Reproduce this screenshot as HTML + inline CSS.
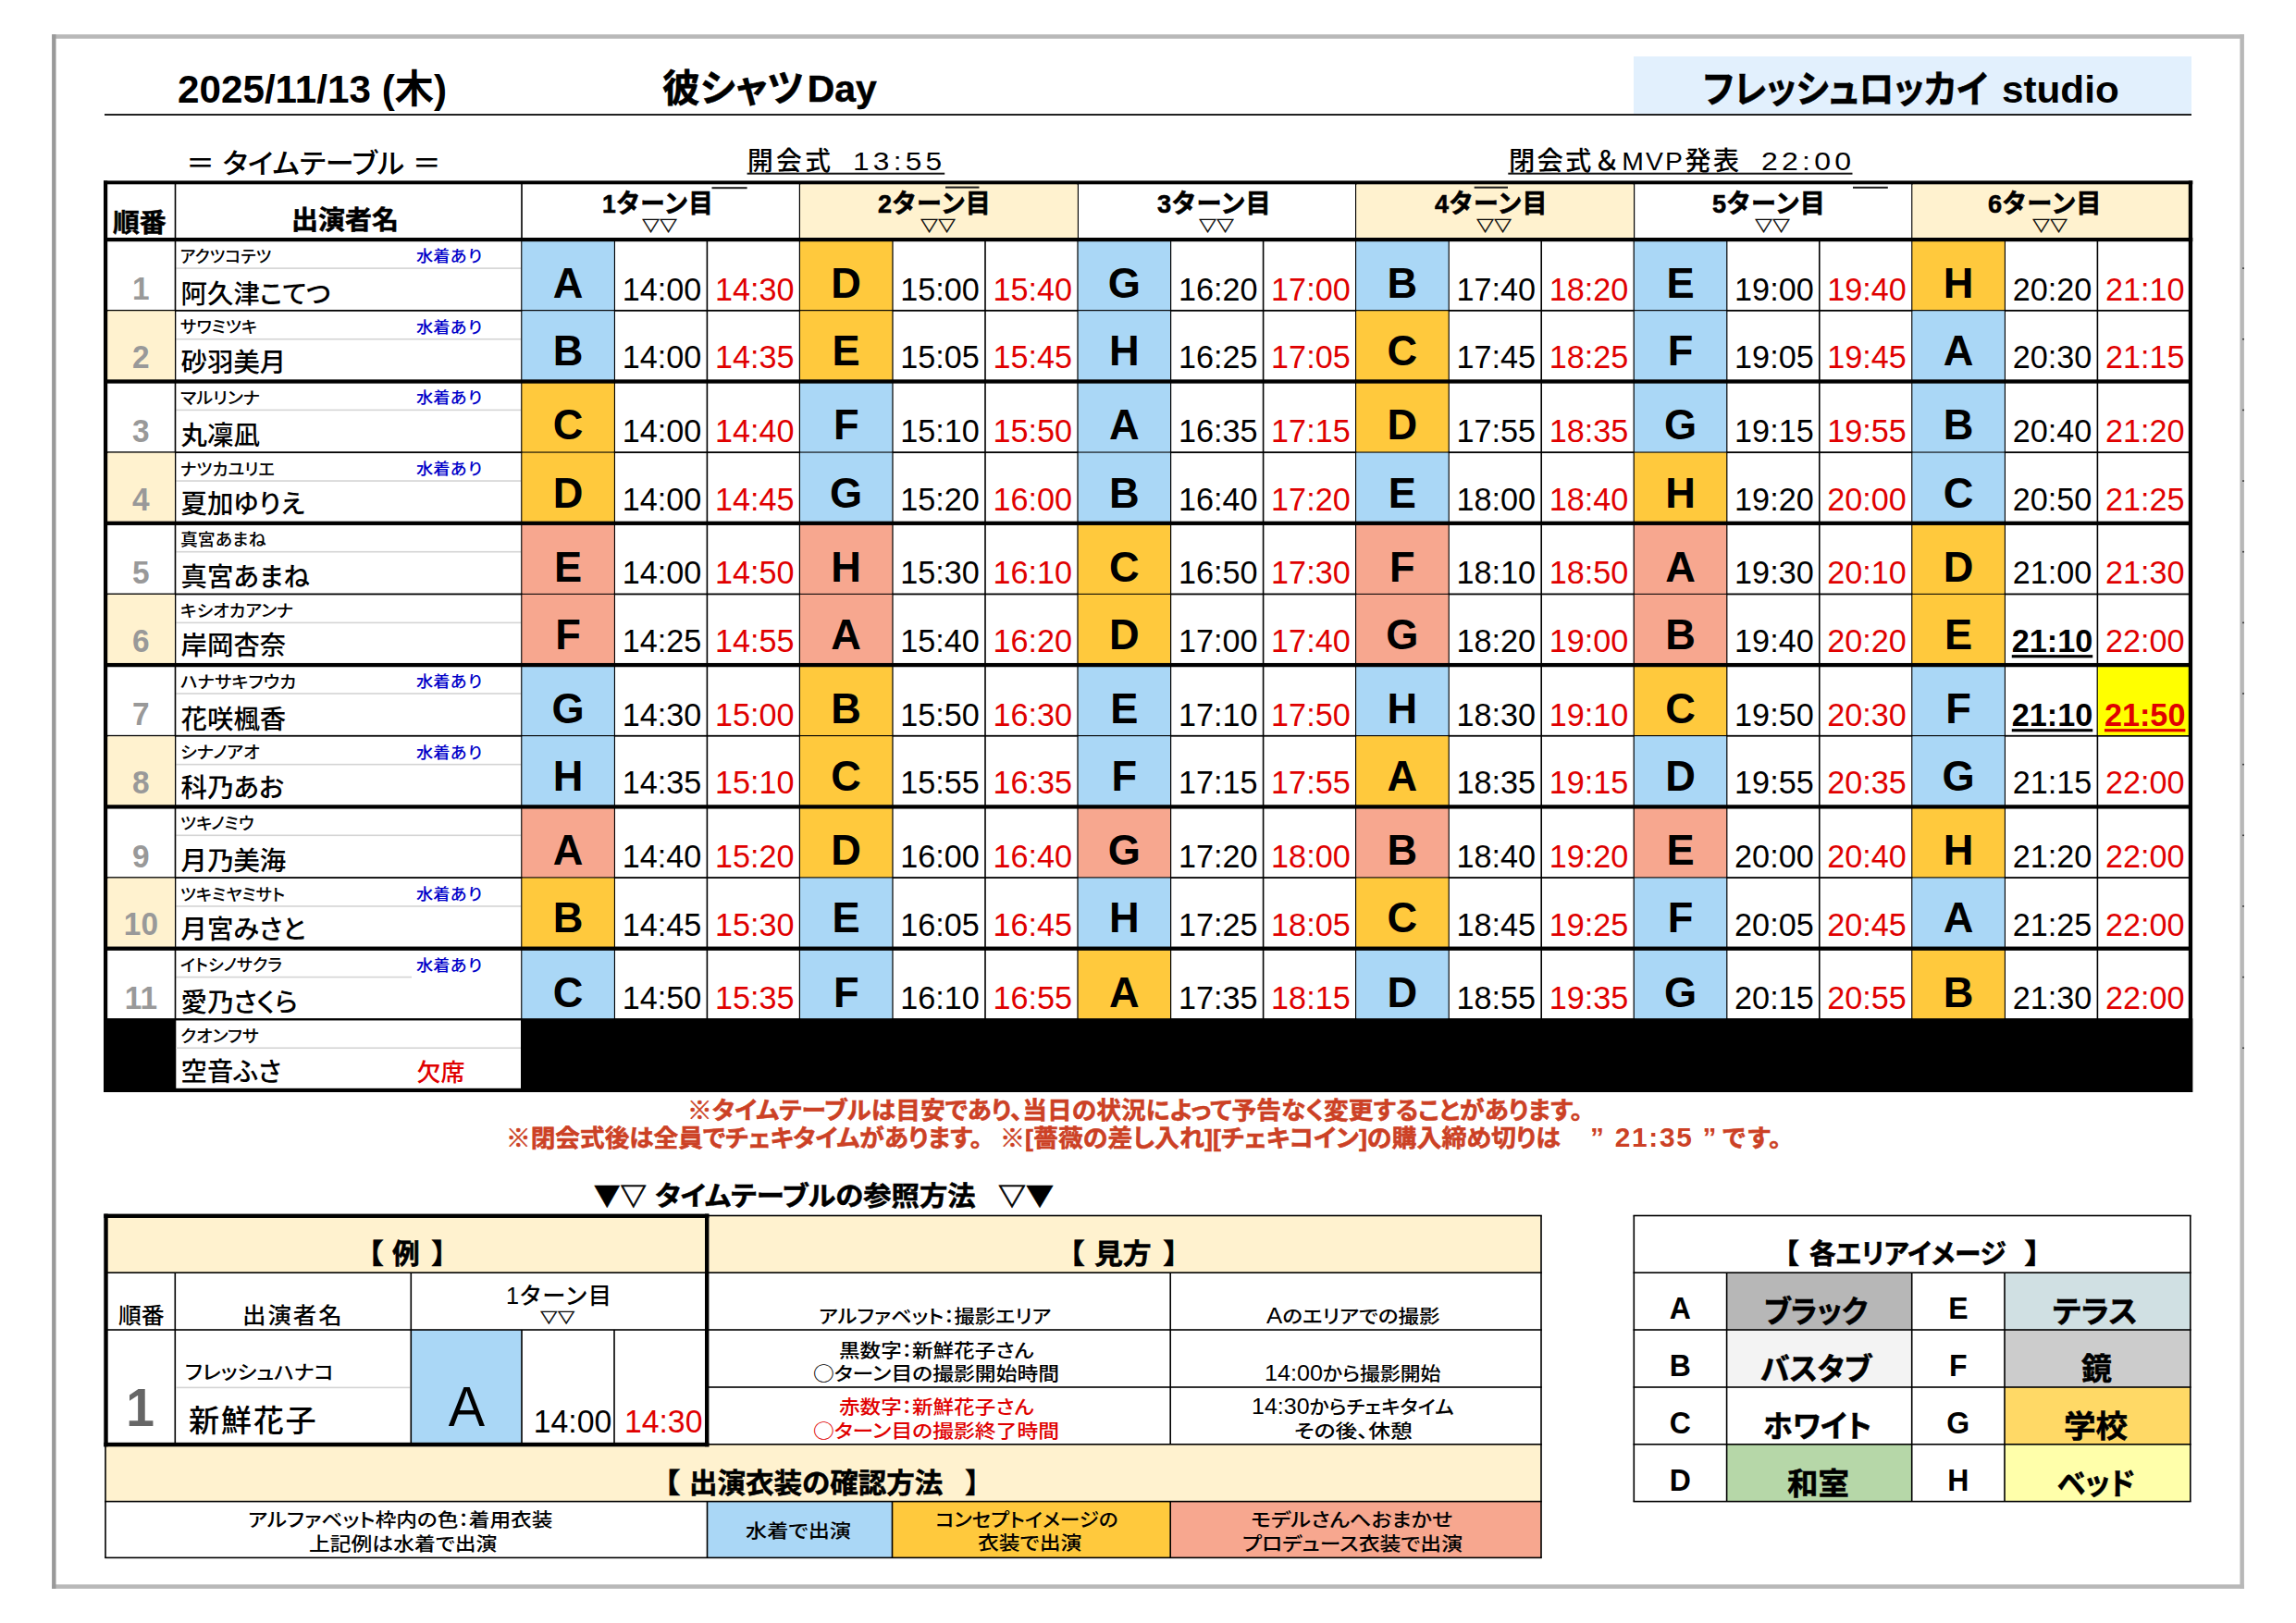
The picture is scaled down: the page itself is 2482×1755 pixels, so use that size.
<!DOCTYPE html>
<html lang="ja"><head><meta charset="utf-8"><title>タイムテーブル</title><style>
html,body{margin:0;padding:0;background:#fff}
#pg{position:relative;width:2482px;height:1755px;overflow:hidden;background:#fff;font-family:"Liberation Sans","Noto Sans CJK JP",sans-serif;color:#000}
#sh{position:absolute;left:0;top:0}
.t{position:absolute;white-space:nowrap;line-height:1;font-weight:500;font-family:"Liberation Sans","Noto Sans CJK JP",sans-serif}
.j{font-family:"Noto Sans CJK JP",sans-serif}
.bd{font-weight:bold}
.big{font-size:1.15em;line-height:0}
.hv{-webkit-text-stroke-width:0.55px}
.pl{font-feature-settings:"palt"}
.ul{text-decoration:underline;text-decoration-thickness:2px;text-underline-offset:3px}
.ul2{text-decoration:underline;text-decoration-thickness:3px;text-underline-offset:3px}
</style></head><body><div id="pg">
<svg id="sh" width="2482" height="1755" viewBox="0 0 2482 1755">
<rect x="56.10" y="37.20" width="2369.80" height="4.60" fill="#b8b8b8"/>
<rect x="56.10" y="1713.30" width="2369.80" height="4.60" fill="#b8b8b8"/>
<rect x="2421.40" y="37.20" width="4.50" height="1680.70" fill="#b8b8b8"/>
<rect x="56.10" y="37.20" width="4.40" height="1680.70" fill="#999"/>
<rect x="1766.00" y="61.00" width="603.00" height="62.00" fill="#e2f0fd"/>
<rect x="864.60" y="199.00" width="300.60" height="59.00" fill="#fff2cf"/>
<rect x="1465.80" y="199.00" width="300.60" height="59.00" fill="#fff2cf"/>
<rect x="2067.00" y="199.00" width="300.60" height="59.00" fill="#fff2cf"/>
<rect x="564.00" y="259.20" width="100.20" height="76.65" fill="#aad7f6"/>
<rect x="864.60" y="259.20" width="100.20" height="76.65" fill="#ffc93d"/>
<rect x="1165.20" y="259.20" width="100.20" height="76.65" fill="#aad7f6"/>
<rect x="1465.80" y="259.20" width="100.20" height="76.65" fill="#aad7f6"/>
<rect x="1766.40" y="259.20" width="100.20" height="76.65" fill="#aad7f6"/>
<rect x="2067.00" y="259.20" width="100.20" height="76.65" fill="#ffc93d"/>
<rect x="116.00" y="335.85" width="73.30" height="76.65" fill="#fff2cf"/>
<rect x="564.00" y="335.85" width="100.20" height="76.65" fill="#aad7f6"/>
<rect x="864.60" y="335.85" width="100.20" height="76.65" fill="#ffc93d"/>
<rect x="1165.20" y="335.85" width="100.20" height="76.65" fill="#aad7f6"/>
<rect x="1465.80" y="335.85" width="100.20" height="76.65" fill="#ffc93d"/>
<rect x="1766.40" y="335.85" width="100.20" height="76.65" fill="#aad7f6"/>
<rect x="2067.00" y="335.85" width="100.20" height="76.65" fill="#aad7f6"/>
<rect x="564.00" y="412.50" width="100.20" height="76.65" fill="#ffc93d"/>
<rect x="864.60" y="412.50" width="100.20" height="76.65" fill="#aad7f6"/>
<rect x="1165.20" y="412.50" width="100.20" height="76.65" fill="#aad7f6"/>
<rect x="1465.80" y="412.50" width="100.20" height="76.65" fill="#ffc93d"/>
<rect x="1766.40" y="412.50" width="100.20" height="76.65" fill="#aad7f6"/>
<rect x="2067.00" y="412.50" width="100.20" height="76.65" fill="#aad7f6"/>
<rect x="116.00" y="489.15" width="73.30" height="76.65" fill="#fff2cf"/>
<rect x="564.00" y="489.15" width="100.20" height="76.65" fill="#ffc93d"/>
<rect x="864.60" y="489.15" width="100.20" height="76.65" fill="#aad7f6"/>
<rect x="1165.20" y="489.15" width="100.20" height="76.65" fill="#aad7f6"/>
<rect x="1465.80" y="489.15" width="100.20" height="76.65" fill="#aad7f6"/>
<rect x="1766.40" y="489.15" width="100.20" height="76.65" fill="#ffc93d"/>
<rect x="2067.00" y="489.15" width="100.20" height="76.65" fill="#aad7f6"/>
<rect x="564.00" y="565.80" width="100.20" height="76.65" fill="#f7a78f"/>
<rect x="864.60" y="565.80" width="100.20" height="76.65" fill="#f7a78f"/>
<rect x="1165.20" y="565.80" width="100.20" height="76.65" fill="#ffc93d"/>
<rect x="1465.80" y="565.80" width="100.20" height="76.65" fill="#f7a78f"/>
<rect x="1766.40" y="565.80" width="100.20" height="76.65" fill="#f7a78f"/>
<rect x="2067.00" y="565.80" width="100.20" height="76.65" fill="#ffc93d"/>
<rect x="116.00" y="642.45" width="73.30" height="76.65" fill="#fff2cf"/>
<rect x="564.00" y="642.45" width="100.20" height="76.65" fill="#f7a78f"/>
<rect x="864.60" y="642.45" width="100.20" height="76.65" fill="#f7a78f"/>
<rect x="1165.20" y="642.45" width="100.20" height="76.65" fill="#ffc93d"/>
<rect x="1465.80" y="642.45" width="100.20" height="76.65" fill="#f7a78f"/>
<rect x="1766.40" y="642.45" width="100.20" height="76.65" fill="#f7a78f"/>
<rect x="2067.00" y="642.45" width="100.20" height="76.65" fill="#ffc93d"/>
<rect x="564.00" y="719.10" width="100.20" height="76.65" fill="#aad7f6"/>
<rect x="864.60" y="719.10" width="100.20" height="76.65" fill="#ffc93d"/>
<rect x="1165.20" y="719.10" width="100.20" height="76.65" fill="#aad7f6"/>
<rect x="1465.80" y="719.10" width="100.20" height="76.65" fill="#aad7f6"/>
<rect x="1766.40" y="719.10" width="100.20" height="76.65" fill="#ffc93d"/>
<rect x="2067.00" y="719.10" width="100.20" height="76.65" fill="#aad7f6"/>
<rect x="2267.40" y="719.10" width="100.20" height="76.65" fill="#ffff00"/>
<rect x="116.00" y="795.75" width="73.30" height="76.65" fill="#fff2cf"/>
<rect x="564.00" y="795.75" width="100.20" height="76.65" fill="#aad7f6"/>
<rect x="864.60" y="795.75" width="100.20" height="76.65" fill="#ffc93d"/>
<rect x="1165.20" y="795.75" width="100.20" height="76.65" fill="#aad7f6"/>
<rect x="1465.80" y="795.75" width="100.20" height="76.65" fill="#ffc93d"/>
<rect x="1766.40" y="795.75" width="100.20" height="76.65" fill="#aad7f6"/>
<rect x="2067.00" y="795.75" width="100.20" height="76.65" fill="#aad7f6"/>
<rect x="564.00" y="872.40" width="100.20" height="76.65" fill="#f7a78f"/>
<rect x="864.60" y="872.40" width="100.20" height="76.65" fill="#ffc93d"/>
<rect x="1165.20" y="872.40" width="100.20" height="76.65" fill="#f7a78f"/>
<rect x="1465.80" y="872.40" width="100.20" height="76.65" fill="#f7a78f"/>
<rect x="1766.40" y="872.40" width="100.20" height="76.65" fill="#f7a78f"/>
<rect x="2067.00" y="872.40" width="100.20" height="76.65" fill="#ffc93d"/>
<rect x="116.00" y="949.05" width="73.30" height="76.65" fill="#fff2cf"/>
<rect x="564.00" y="949.05" width="100.20" height="76.65" fill="#ffc93d"/>
<rect x="864.60" y="949.05" width="100.20" height="76.65" fill="#aad7f6"/>
<rect x="1165.20" y="949.05" width="100.20" height="76.65" fill="#aad7f6"/>
<rect x="1465.80" y="949.05" width="100.20" height="76.65" fill="#ffc93d"/>
<rect x="1766.40" y="949.05" width="100.20" height="76.65" fill="#aad7f6"/>
<rect x="2067.00" y="949.05" width="100.20" height="76.65" fill="#aad7f6"/>
<rect x="564.00" y="1025.70" width="100.20" height="76.65" fill="#aad7f6"/>
<rect x="864.60" y="1025.70" width="100.20" height="76.65" fill="#aad7f6"/>
<rect x="1165.20" y="1025.70" width="100.20" height="76.65" fill="#ffc93d"/>
<rect x="1465.80" y="1025.70" width="100.20" height="76.65" fill="#aad7f6"/>
<rect x="1766.40" y="1025.70" width="100.20" height="76.65" fill="#aad7f6"/>
<rect x="2067.00" y="1025.70" width="100.20" height="76.65" fill="#ffc93d"/>
<rect x="114.00" y="1314.50" width="1552.00" height="61.70" fill="#fff2cf"/>
<rect x="114.00" y="1561.80" width="1552.00" height="61.80" fill="#fff2cf"/>
<rect x="444.30" y="1438.00" width="119.70" height="123.80" fill="#aad7f6"/>
<rect x="764.50" y="1623.60" width="200.00" height="60.80" fill="#aad7f6"/>
<rect x="964.50" y="1623.60" width="300.70" height="60.80" fill="#ffc93d"/>
<rect x="1265.20" y="1623.60" width="400.80" height="60.80" fill="#f7a78f"/>
<rect x="1866.60" y="1376.20" width="200.10" height="61.80" fill="#b7b7b7"/>
<rect x="1866.60" y="1438.00" width="200.10" height="62.00" fill="#f3f3f3"/>
<rect x="1866.60" y="1561.80" width="200.10" height="61.80" fill="#b6d7a8"/>
<rect x="2167.00" y="1376.20" width="200.80" height="61.80" fill="#d0e0e3"/>
<rect x="2167.00" y="1438.00" width="200.80" height="62.00" fill="#cccccc"/>
<rect x="2167.00" y="1500.00" width="200.80" height="61.80" fill="#ffd966"/>
<rect x="2167.00" y="1561.80" width="200.80" height="61.80" fill="#ffffaa"/>
<rect x="113.00" y="123.00" width="2256.00" height="2.00" fill="#222"/>
<rect x="807.60" y="186.70" width="213.60" height="2.00" fill="#111"/>
<rect x="1630.30" y="186.70" width="372.20" height="2.00" fill="#111"/>
<rect x="190.30" y="289.30" width="372.70" height="1.60" fill="#d4d4d4"/>
<rect x="190.30" y="365.95" width="372.70" height="1.60" fill="#d4d4d4"/>
<rect x="190.30" y="442.60" width="372.70" height="1.60" fill="#d4d4d4"/>
<rect x="190.30" y="519.25" width="372.70" height="1.60" fill="#d4d4d4"/>
<rect x="190.30" y="595.90" width="372.70" height="1.60" fill="#d4d4d4"/>
<rect x="190.30" y="672.55" width="372.70" height="1.60" fill="#d4d4d4"/>
<rect x="190.30" y="749.20" width="372.70" height="1.60" fill="#d4d4d4"/>
<rect x="190.30" y="825.85" width="372.70" height="1.60" fill="#d4d4d4"/>
<rect x="190.30" y="902.50" width="372.70" height="1.60" fill="#d4d4d4"/>
<rect x="190.30" y="979.15" width="372.70" height="1.60" fill="#d4d4d4"/>
<rect x="190.30" y="1055.80" width="254.70" height="1.60" fill="#d4d4d4"/>
<rect x="563.20" y="197.00" width="1.60" height="905.35" fill="#000"/>
<rect x="663.40" y="259.20" width="1.60" height="843.15" fill="#000"/>
<rect x="763.60" y="259.20" width="1.60" height="843.15" fill="#000"/>
<rect x="863.80" y="197.00" width="1.60" height="905.35" fill="#000"/>
<rect x="964.00" y="259.20" width="1.60" height="843.15" fill="#000"/>
<rect x="1064.20" y="259.20" width="1.60" height="843.15" fill="#000"/>
<rect x="1164.40" y="197.00" width="1.60" height="905.35" fill="#000"/>
<rect x="1264.60" y="259.20" width="1.60" height="843.15" fill="#000"/>
<rect x="1364.80" y="259.20" width="1.60" height="843.15" fill="#000"/>
<rect x="1465.00" y="197.00" width="1.60" height="905.35" fill="#000"/>
<rect x="1565.20" y="259.20" width="1.60" height="843.15" fill="#000"/>
<rect x="1665.40" y="259.20" width="1.60" height="843.15" fill="#000"/>
<rect x="1765.60" y="197.00" width="1.60" height="905.35" fill="#000"/>
<rect x="1865.80" y="259.20" width="1.60" height="843.15" fill="#000"/>
<rect x="1966.00" y="259.20" width="1.60" height="843.15" fill="#000"/>
<rect x="2066.20" y="197.00" width="1.60" height="905.35" fill="#000"/>
<rect x="2166.40" y="259.20" width="1.60" height="843.15" fill="#000"/>
<rect x="2266.60" y="259.20" width="1.60" height="843.15" fill="#000"/>
<rect x="188.70" y="197.00" width="1.60" height="905.35" fill="#000"/>
<rect x="114.00" y="334.95" width="2254.00" height="1.80" fill="#000"/>
<rect x="114.00" y="488.25" width="2254.00" height="1.80" fill="#000"/>
<rect x="114.00" y="641.55" width="2254.00" height="1.80" fill="#000"/>
<rect x="114.00" y="794.85" width="2254.00" height="1.80" fill="#000"/>
<rect x="114.00" y="948.15" width="2254.00" height="1.80" fill="#000"/>
<rect x="114.00" y="1101.45" width="2254.00" height="1.80" fill="#000"/>
<rect x="764.00" y="1313.70" width="902.80" height="1.60" fill="#000"/>
<rect x="113.20" y="1375.40" width="1553.60" height="1.60" fill="#000"/>
<rect x="113.20" y="1437.20" width="1553.60" height="1.60" fill="#000"/>
<rect x="764.00" y="1499.20" width="902.80" height="1.60" fill="#000"/>
<rect x="113.20" y="1561.00" width="1553.60" height="1.60" fill="#000"/>
<rect x="113.20" y="1622.80" width="1553.60" height="1.60" fill="#000"/>
<rect x="113.20" y="1683.60" width="1553.60" height="1.60" fill="#000"/>
<rect x="113.20" y="1561.80" width="1.60" height="122.60" fill="#000"/>
<rect x="1665.20" y="1314.50" width="1.60" height="369.90" fill="#000"/>
<rect x="188.50" y="1376.20" width="1.60" height="185.60" fill="#000"/>
<rect x="443.50" y="1376.20" width="1.60" height="185.60" fill="#000"/>
<rect x="563.20" y="1438.00" width="1.60" height="123.80" fill="#000"/>
<rect x="663.20" y="1438.00" width="1.60" height="123.80" fill="#000"/>
<rect x="1264.40" y="1376.20" width="1.60" height="185.60" fill="#000"/>
<rect x="763.70" y="1623.60" width="1.60" height="60.80" fill="#000"/>
<rect x="963.70" y="1623.60" width="1.60" height="60.80" fill="#000"/>
<rect x="1264.40" y="1623.60" width="1.60" height="60.80" fill="#000"/>
<rect x="190.00" y="1499.60" width="253.00" height="1.60" fill="#d4d4d4"/>
<rect x="1765.50" y="1313.70" width="603.10" height="1.60" fill="#000"/>
<rect x="1765.50" y="1375.40" width="603.10" height="1.60" fill="#000"/>
<rect x="1765.50" y="1437.20" width="603.10" height="1.60" fill="#000"/>
<rect x="1765.50" y="1499.20" width="603.10" height="1.60" fill="#000"/>
<rect x="1765.50" y="1561.00" width="603.10" height="1.60" fill="#000"/>
<rect x="1765.50" y="1622.80" width="603.10" height="1.60" fill="#000"/>
<rect x="1765.50" y="1314.50" width="1.60" height="309.10" fill="#000"/>
<rect x="2367.00" y="1314.50" width="1.60" height="309.10" fill="#000"/>
<rect x="1865.80" y="1376.20" width="1.60" height="247.40" fill="#000"/>
<rect x="2065.90" y="1376.20" width="1.60" height="247.40" fill="#000"/>
<rect x="2166.20" y="1376.20" width="1.60" height="247.40" fill="#000"/>
<rect x="865.00" y="199.45" width="299.80" height="57.75" fill="#fff2cf"/>
<rect x="1466.20" y="199.45" width="299.80" height="57.75" fill="#fff2cf"/>
<rect x="2067.40" y="199.45" width="299.80" height="57.75" fill="#fff2cf"/>
<rect x="564.40" y="259.65" width="99.40" height="75.40" fill="#aad7f6"/>
<rect x="865.00" y="259.65" width="99.40" height="75.40" fill="#ffc93d"/>
<rect x="1165.60" y="259.65" width="99.40" height="75.40" fill="#aad7f6"/>
<rect x="1466.20" y="259.65" width="99.40" height="75.40" fill="#aad7f6"/>
<rect x="1766.80" y="259.65" width="99.40" height="75.40" fill="#aad7f6"/>
<rect x="2067.40" y="259.65" width="99.40" height="75.40" fill="#ffc93d"/>
<rect x="116.40" y="336.30" width="72.50" height="75.40" fill="#fff2cf"/>
<rect x="564.40" y="336.30" width="99.40" height="75.40" fill="#aad7f6"/>
<rect x="865.00" y="336.30" width="99.40" height="75.40" fill="#ffc93d"/>
<rect x="1165.60" y="336.30" width="99.40" height="75.40" fill="#aad7f6"/>
<rect x="1466.20" y="336.30" width="99.40" height="75.40" fill="#ffc93d"/>
<rect x="1766.80" y="336.30" width="99.40" height="75.40" fill="#aad7f6"/>
<rect x="2067.40" y="336.30" width="99.40" height="75.40" fill="#aad7f6"/>
<rect x="564.40" y="412.95" width="99.40" height="75.40" fill="#ffc93d"/>
<rect x="865.00" y="412.95" width="99.40" height="75.40" fill="#aad7f6"/>
<rect x="1165.60" y="412.95" width="99.40" height="75.40" fill="#aad7f6"/>
<rect x="1466.20" y="412.95" width="99.40" height="75.40" fill="#ffc93d"/>
<rect x="1766.80" y="412.95" width="99.40" height="75.40" fill="#aad7f6"/>
<rect x="2067.40" y="412.95" width="99.40" height="75.40" fill="#aad7f6"/>
<rect x="116.40" y="489.60" width="72.50" height="75.40" fill="#fff2cf"/>
<rect x="564.40" y="489.60" width="99.40" height="75.40" fill="#ffc93d"/>
<rect x="865.00" y="489.60" width="99.40" height="75.40" fill="#aad7f6"/>
<rect x="1165.60" y="489.60" width="99.40" height="75.40" fill="#aad7f6"/>
<rect x="1466.20" y="489.60" width="99.40" height="75.40" fill="#aad7f6"/>
<rect x="1766.80" y="489.60" width="99.40" height="75.40" fill="#ffc93d"/>
<rect x="2067.40" y="489.60" width="99.40" height="75.40" fill="#aad7f6"/>
<rect x="564.40" y="566.25" width="99.40" height="75.40" fill="#f7a78f"/>
<rect x="865.00" y="566.25" width="99.40" height="75.40" fill="#f7a78f"/>
<rect x="1165.60" y="566.25" width="99.40" height="75.40" fill="#ffc93d"/>
<rect x="1466.20" y="566.25" width="99.40" height="75.40" fill="#f7a78f"/>
<rect x="1766.80" y="566.25" width="99.40" height="75.40" fill="#f7a78f"/>
<rect x="2067.40" y="566.25" width="99.40" height="75.40" fill="#ffc93d"/>
<rect x="116.40" y="642.90" width="72.50" height="75.40" fill="#fff2cf"/>
<rect x="564.40" y="642.90" width="99.40" height="75.40" fill="#f7a78f"/>
<rect x="865.00" y="642.90" width="99.40" height="75.40" fill="#f7a78f"/>
<rect x="1165.60" y="642.90" width="99.40" height="75.40" fill="#ffc93d"/>
<rect x="1466.20" y="642.90" width="99.40" height="75.40" fill="#f7a78f"/>
<rect x="1766.80" y="642.90" width="99.40" height="75.40" fill="#f7a78f"/>
<rect x="2067.40" y="642.90" width="99.40" height="75.40" fill="#ffc93d"/>
<rect x="564.40" y="719.55" width="99.40" height="75.40" fill="#aad7f6"/>
<rect x="865.00" y="719.55" width="99.40" height="75.40" fill="#ffc93d"/>
<rect x="1165.60" y="719.55" width="99.40" height="75.40" fill="#aad7f6"/>
<rect x="1466.20" y="719.55" width="99.40" height="75.40" fill="#aad7f6"/>
<rect x="1766.80" y="719.55" width="99.40" height="75.40" fill="#ffc93d"/>
<rect x="2067.40" y="719.55" width="99.40" height="75.40" fill="#aad7f6"/>
<rect x="2267.80" y="719.55" width="99.40" height="75.40" fill="#ffff00"/>
<rect x="116.40" y="796.20" width="72.50" height="75.40" fill="#fff2cf"/>
<rect x="564.40" y="796.20" width="99.40" height="75.40" fill="#aad7f6"/>
<rect x="865.00" y="796.20" width="99.40" height="75.40" fill="#ffc93d"/>
<rect x="1165.60" y="796.20" width="99.40" height="75.40" fill="#aad7f6"/>
<rect x="1466.20" y="796.20" width="99.40" height="75.40" fill="#ffc93d"/>
<rect x="1766.80" y="796.20" width="99.40" height="75.40" fill="#aad7f6"/>
<rect x="2067.40" y="796.20" width="99.40" height="75.40" fill="#aad7f6"/>
<rect x="564.40" y="872.85" width="99.40" height="75.40" fill="#f7a78f"/>
<rect x="865.00" y="872.85" width="99.40" height="75.40" fill="#ffc93d"/>
<rect x="1165.60" y="872.85" width="99.40" height="75.40" fill="#f7a78f"/>
<rect x="1466.20" y="872.85" width="99.40" height="75.40" fill="#f7a78f"/>
<rect x="1766.80" y="872.85" width="99.40" height="75.40" fill="#f7a78f"/>
<rect x="2067.40" y="872.85" width="99.40" height="75.40" fill="#ffc93d"/>
<rect x="116.40" y="949.50" width="72.50" height="75.40" fill="#fff2cf"/>
<rect x="564.40" y="949.50" width="99.40" height="75.40" fill="#ffc93d"/>
<rect x="865.00" y="949.50" width="99.40" height="75.40" fill="#aad7f6"/>
<rect x="1165.60" y="949.50" width="99.40" height="75.40" fill="#aad7f6"/>
<rect x="1466.20" y="949.50" width="99.40" height="75.40" fill="#ffc93d"/>
<rect x="1766.80" y="949.50" width="99.40" height="75.40" fill="#aad7f6"/>
<rect x="2067.40" y="949.50" width="99.40" height="75.40" fill="#aad7f6"/>
<rect x="564.40" y="1026.15" width="99.40" height="75.40" fill="#aad7f6"/>
<rect x="865.00" y="1026.15" width="99.40" height="75.40" fill="#aad7f6"/>
<rect x="1165.60" y="1026.15" width="99.40" height="75.40" fill="#ffc93d"/>
<rect x="1466.20" y="1026.15" width="99.40" height="75.40" fill="#aad7f6"/>
<rect x="1766.80" y="1026.15" width="99.40" height="75.40" fill="#aad7f6"/>
<rect x="2067.40" y="1026.15" width="99.40" height="75.40" fill="#ffc93d"/>
<rect x="2424.20" y="289.30" width="1.60" height="1.60" fill="#222"/>
<rect x="2424.20" y="365.95" width="1.60" height="1.60" fill="#222"/>
<rect x="2424.20" y="442.60" width="1.60" height="1.60" fill="#222"/>
<rect x="2424.20" y="519.25" width="1.60" height="1.60" fill="#222"/>
<rect x="2424.20" y="595.90" width="1.60" height="1.60" fill="#222"/>
<rect x="2424.20" y="672.55" width="1.60" height="1.60" fill="#222"/>
<rect x="2424.20" y="749.20" width="1.60" height="1.60" fill="#222"/>
<rect x="2424.20" y="825.85" width="1.60" height="1.60" fill="#222"/>
<rect x="2424.20" y="902.50" width="1.60" height="1.60" fill="#222"/>
<rect x="2424.20" y="979.15" width="1.60" height="1.60" fill="#222"/>
<rect x="2424.20" y="1055.80" width="1.60" height="1.60" fill="#222"/>
<rect x="2424.20" y="1132.45" width="1.60" height="1.60" fill="#222"/>
<rect x="112.00" y="1101.25" width="2258.30" height="79.75" fill="#000"/>
<rect x="190.30" y="1103.45" width="372.70" height="73.35" fill="#fff"/>
<rect x="190.30" y="1132.45" width="372.70" height="1.60" fill="#d4d4d4"/>
<rect x="769.50" y="202.20" width="38.10" height="2.00" fill="#1a1a1a"/>
<rect x="1022.00" y="201.60" width="36.50" height="2.00" fill="#1a1a1a"/>
<rect x="1593.70" y="201.70" width="36.30" height="2.00" fill="#1a1a1a"/>
<rect x="2003.00" y="201.80" width="37.80" height="2.00" fill="#1a1a1a"/>
<rect x="114.00" y="410.35" width="2254.00" height="4.30" fill="#000"/>
<rect x="114.00" y="563.65" width="2254.00" height="4.30" fill="#000"/>
<rect x="114.00" y="716.95" width="2254.00" height="4.30" fill="#000"/>
<rect x="114.00" y="870.25" width="2254.00" height="4.30" fill="#000"/>
<rect x="114.00" y="1023.55" width="2254.00" height="4.30" fill="#000"/>
<rect x="112.00" y="195.40" width="2258.30" height="3.90" fill="#000"/>
<rect x="112.00" y="257.00" width="2258.30" height="4.20" fill="#000"/>
<rect x="112.00" y="195.40" width="4.20" height="985.60" fill="#000"/>
<rect x="2365.80" y="195.40" width="4.30" height="985.60" fill="#000"/>
<rect x="112.30" y="1312.60" width="654.10" height="4.40" fill="#000"/>
<rect x="112.30" y="1559.80" width="654.10" height="4.50" fill="#000"/>
<rect x="112.30" y="1312.60" width="4.40" height="251.70" fill="#000"/>
<rect x="762.00" y="1312.60" width="4.40" height="251.70" fill="#000"/>
</svg>
<div class="t bd" style="top:75.52px;font-size:41.8px;left:192.19px;transform:scale(1.0098,1);transform-origin:left 35.38px;">2025/11/13 (木)</div>
<div class="t bd pl hv" style="top:75.79px;font-size:41px;left:715.50px;transform:scale(0.9957,1);transform-origin:left 34.71px;">彼シャツ<span style="margin-left:4px">Day</span></div>
<div class="t bd pl hv" style="top:76.69px;font-size:41px;left:1840.55px;transform:scale(0.9252,1);transform-origin:left 34.71px;">フレッシュロッカイ</div>
<div class="t bd" style="top:76.69px;font-size:41px;left:2163.64px;transform:scale(1.0303,1);transform-origin:left 34.71px;">studio</div>
<div class="t pl" style="top:162.00px;font-size:30px;left:201.16px;transform:scale(1.036,1);transform-origin:left 25.39px;">＝ タイムテーブル ＝</div>
<div class="t" style="top:160.90px;font-size:28px;left:808.42px;transform:scale(0.9909,1);transform-origin:left 23.70px;letter-spacing:3.4px;">開会式</div>
<div class="t" style="top:160.90px;font-size:28px;left:922.23px;transform:scale(1.1329,1);transform-origin:left 23.70px;letter-spacing:3.7px;">13:55</div>
<div class="t" style="top:160.90px;font-size:28px;left:1630.98px;transform:scale(1.0115,1);transform-origin:left 23.70px;letter-spacing:2.2px;">閉会式＆MVP発表</div>
<div class="t" style="top:160.90px;font-size:28px;left:1903.56px;transform:scale(1.1434,1);transform-origin:left 23.70px;letter-spacing:3.7px;">22:00</div>
<div class="t bd" style="top:296.38px;font-size:33.4px;left:-547.60px;width:1400px;text-align:center;transform:scale(1,1.06);transform-origin:center 28.27px;color:#999999;">1</div>
<div class="t pl" style="top:268.76px;font-size:18.0px;left:194.60px;transform:scale(1.0,1);transform-origin:left 15.24px;">アクツコテツ</div>
<div class="t" style="top:269.19px;font-size:17.5px;left:450.00px;transform:scale(1.045,1);transform-origin:left 14.81px;color:#0000c8;">水着あり</div>
<div class="t pl" style="top:303.81px;font-size:28.4px;left:195.60px;">阿久津こてつ</div>
<div class="t bd" style="top:284.19px;font-size:45.2px;left:-85.90px;width:1400px;text-align:center;transform:scale(1,1.02);transform-origin:center 38.26px;">A</div>
<div class="t" style="top:295.60px;font-size:34.2px;left:15.50px;width:1400px;text-align:center;transform:scale(1,1.05);transform-origin:center 28.95px;">14:00</div>
<div class="t" style="top:295.60px;font-size:34.2px;left:115.70px;width:1400px;text-align:center;transform:scale(1,1.05);transform-origin:center 28.95px;color:#e00000;">14:30</div>
<div class="t bd" style="top:284.19px;font-size:45.2px;left:214.70px;width:1400px;text-align:center;transform:scale(1,1.02);transform-origin:center 38.26px;">D</div>
<div class="t" style="top:295.60px;font-size:34.2px;left:316.10px;width:1400px;text-align:center;transform:scale(1,1.05);transform-origin:center 28.95px;">15:00</div>
<div class="t" style="top:295.60px;font-size:34.2px;left:416.30px;width:1400px;text-align:center;transform:scale(1,1.05);transform-origin:center 28.95px;color:#e00000;">15:40</div>
<div class="t bd" style="top:284.19px;font-size:45.2px;left:515.30px;width:1400px;text-align:center;transform:scale(1,1.02);transform-origin:center 38.26px;">G</div>
<div class="t" style="top:295.60px;font-size:34.2px;left:616.70px;width:1400px;text-align:center;transform:scale(1,1.05);transform-origin:center 28.95px;">16:20</div>
<div class="t" style="top:295.60px;font-size:34.2px;left:716.90px;width:1400px;text-align:center;transform:scale(1,1.05);transform-origin:center 28.95px;color:#e00000;">17:00</div>
<div class="t bd" style="top:284.19px;font-size:45.2px;left:815.90px;width:1400px;text-align:center;transform:scale(1,1.02);transform-origin:center 38.26px;">B</div>
<div class="t" style="top:295.60px;font-size:34.2px;left:917.30px;width:1400px;text-align:center;transform:scale(1,1.05);transform-origin:center 28.95px;">17:40</div>
<div class="t" style="top:295.60px;font-size:34.2px;left:1017.50px;width:1400px;text-align:center;transform:scale(1,1.05);transform-origin:center 28.95px;color:#e00000;">18:20</div>
<div class="t bd" style="top:284.19px;font-size:45.2px;left:1116.50px;width:1400px;text-align:center;transform:scale(1,1.02);transform-origin:center 38.26px;">E</div>
<div class="t" style="top:295.60px;font-size:34.2px;left:1217.90px;width:1400px;text-align:center;transform:scale(1,1.05);transform-origin:center 28.95px;">19:00</div>
<div class="t" style="top:295.60px;font-size:34.2px;left:1318.10px;width:1400px;text-align:center;transform:scale(1,1.05);transform-origin:center 28.95px;color:#e00000;">19:40</div>
<div class="t bd" style="top:284.19px;font-size:45.2px;left:1417.10px;width:1400px;text-align:center;transform:scale(1,1.02);transform-origin:center 38.26px;">H</div>
<div class="t" style="top:295.60px;font-size:34.2px;left:1518.50px;width:1400px;text-align:center;transform:scale(1,1.05);transform-origin:center 28.95px;">20:20</div>
<div class="t" style="top:295.60px;font-size:34.2px;left:1618.70px;width:1400px;text-align:center;transform:scale(1,1.05);transform-origin:center 28.95px;color:#e00000;">21:10</div>
<div class="t bd" style="top:370.23px;font-size:33.4px;left:-547.60px;width:1400px;text-align:center;transform:scale(1,1.06);transform-origin:center 28.27px;color:#999999;">2</div>
<div class="t pl" style="top:345.41px;font-size:18.0px;left:194.60px;transform:scale(1.025,1);transform-origin:left 15.24px;">サワミツキ</div>
<div class="t" style="top:345.84px;font-size:17.5px;left:450.00px;transform:scale(1.045,1);transform-origin:left 14.81px;color:#0000c8;">水着あり</div>
<div class="t pl" style="top:377.66px;font-size:28.4px;left:195.60px;">砂羽美月</div>
<div class="t bd" style="top:357.20px;font-size:45.2px;left:-85.90px;width:1400px;text-align:center;transform:scale(1,1.02);transform-origin:center 38.26px;">B</div>
<div class="t" style="top:369.45px;font-size:34.2px;left:15.50px;width:1400px;text-align:center;transform:scale(1,1.05);transform-origin:center 28.95px;">14:00</div>
<div class="t" style="top:369.45px;font-size:34.2px;left:115.70px;width:1400px;text-align:center;transform:scale(1,1.05);transform-origin:center 28.95px;color:#e00000;">14:35</div>
<div class="t bd" style="top:357.20px;font-size:45.2px;left:214.70px;width:1400px;text-align:center;transform:scale(1,1.02);transform-origin:center 38.26px;">E</div>
<div class="t" style="top:369.45px;font-size:34.2px;left:316.10px;width:1400px;text-align:center;transform:scale(1,1.05);transform-origin:center 28.95px;">15:05</div>
<div class="t" style="top:369.45px;font-size:34.2px;left:416.30px;width:1400px;text-align:center;transform:scale(1,1.05);transform-origin:center 28.95px;color:#e00000;">15:45</div>
<div class="t bd" style="top:357.20px;font-size:45.2px;left:515.30px;width:1400px;text-align:center;transform:scale(1,1.02);transform-origin:center 38.26px;">H</div>
<div class="t" style="top:369.45px;font-size:34.2px;left:616.70px;width:1400px;text-align:center;transform:scale(1,1.05);transform-origin:center 28.95px;">16:25</div>
<div class="t" style="top:369.45px;font-size:34.2px;left:716.90px;width:1400px;text-align:center;transform:scale(1,1.05);transform-origin:center 28.95px;color:#e00000;">17:05</div>
<div class="t bd" style="top:357.20px;font-size:45.2px;left:815.90px;width:1400px;text-align:center;transform:scale(1,1.02);transform-origin:center 38.26px;">C</div>
<div class="t" style="top:369.45px;font-size:34.2px;left:917.30px;width:1400px;text-align:center;transform:scale(1,1.05);transform-origin:center 28.95px;">17:45</div>
<div class="t" style="top:369.45px;font-size:34.2px;left:1017.50px;width:1400px;text-align:center;transform:scale(1,1.05);transform-origin:center 28.95px;color:#e00000;">18:25</div>
<div class="t bd" style="top:357.20px;font-size:45.2px;left:1116.50px;width:1400px;text-align:center;transform:scale(1,1.02);transform-origin:center 38.26px;">F</div>
<div class="t" style="top:369.45px;font-size:34.2px;left:1217.90px;width:1400px;text-align:center;transform:scale(1,1.05);transform-origin:center 28.95px;">19:05</div>
<div class="t" style="top:369.45px;font-size:34.2px;left:1318.10px;width:1400px;text-align:center;transform:scale(1,1.05);transform-origin:center 28.95px;color:#e00000;">19:45</div>
<div class="t bd" style="top:357.20px;font-size:45.2px;left:1417.10px;width:1400px;text-align:center;transform:scale(1,1.02);transform-origin:center 38.26px;">A</div>
<div class="t" style="top:369.45px;font-size:34.2px;left:1518.50px;width:1400px;text-align:center;transform:scale(1,1.05);transform-origin:center 28.95px;">20:30</div>
<div class="t" style="top:369.45px;font-size:34.2px;left:1618.70px;width:1400px;text-align:center;transform:scale(1,1.05);transform-origin:center 28.95px;color:#e00000;">21:15</div>
<div class="t bd" style="top:449.68px;font-size:33.4px;left:-547.60px;width:1400px;text-align:center;transform:scale(1,1.06);transform-origin:center 28.27px;color:#999999;">3</div>
<div class="t pl" style="top:422.06px;font-size:18.0px;left:194.60px;transform:scale(1.0653846153846154,1);transform-origin:left 15.24px;">マルリンナ</div>
<div class="t" style="top:422.49px;font-size:17.5px;left:450.00px;transform:scale(1.045,1);transform-origin:left 14.81px;color:#0000c8;">水着あり</div>
<div class="t pl" style="top:457.11px;font-size:28.4px;left:195.60px;">丸凜凪</div>
<div class="t bd" style="top:437.49px;font-size:45.2px;left:-85.90px;width:1400px;text-align:center;transform:scale(1,1.02);transform-origin:center 38.26px;">C</div>
<div class="t" style="top:448.90px;font-size:34.2px;left:15.50px;width:1400px;text-align:center;transform:scale(1,1.05);transform-origin:center 28.95px;">14:00</div>
<div class="t" style="top:448.90px;font-size:34.2px;left:115.70px;width:1400px;text-align:center;transform:scale(1,1.05);transform-origin:center 28.95px;color:#e00000;">14:40</div>
<div class="t bd" style="top:437.49px;font-size:45.2px;left:214.70px;width:1400px;text-align:center;transform:scale(1,1.02);transform-origin:center 38.26px;">F</div>
<div class="t" style="top:448.90px;font-size:34.2px;left:316.10px;width:1400px;text-align:center;transform:scale(1,1.05);transform-origin:center 28.95px;">15:10</div>
<div class="t" style="top:448.90px;font-size:34.2px;left:416.30px;width:1400px;text-align:center;transform:scale(1,1.05);transform-origin:center 28.95px;color:#e00000;">15:50</div>
<div class="t bd" style="top:437.49px;font-size:45.2px;left:515.30px;width:1400px;text-align:center;transform:scale(1,1.02);transform-origin:center 38.26px;">A</div>
<div class="t" style="top:448.90px;font-size:34.2px;left:616.70px;width:1400px;text-align:center;transform:scale(1,1.05);transform-origin:center 28.95px;">16:35</div>
<div class="t" style="top:448.90px;font-size:34.2px;left:716.90px;width:1400px;text-align:center;transform:scale(1,1.05);transform-origin:center 28.95px;color:#e00000;">17:15</div>
<div class="t bd" style="top:437.49px;font-size:45.2px;left:815.90px;width:1400px;text-align:center;transform:scale(1,1.02);transform-origin:center 38.26px;">D</div>
<div class="t" style="top:448.90px;font-size:34.2px;left:917.30px;width:1400px;text-align:center;transform:scale(1,1.05);transform-origin:center 28.95px;">17:55</div>
<div class="t" style="top:448.90px;font-size:34.2px;left:1017.50px;width:1400px;text-align:center;transform:scale(1,1.05);transform-origin:center 28.95px;color:#e00000;">18:35</div>
<div class="t bd" style="top:437.49px;font-size:45.2px;left:1116.50px;width:1400px;text-align:center;transform:scale(1,1.02);transform-origin:center 38.26px;">G</div>
<div class="t" style="top:448.90px;font-size:34.2px;left:1217.90px;width:1400px;text-align:center;transform:scale(1,1.05);transform-origin:center 28.95px;">19:15</div>
<div class="t" style="top:448.90px;font-size:34.2px;left:1318.10px;width:1400px;text-align:center;transform:scale(1,1.05);transform-origin:center 28.95px;color:#e00000;">19:55</div>
<div class="t bd" style="top:437.49px;font-size:45.2px;left:1417.10px;width:1400px;text-align:center;transform:scale(1,1.02);transform-origin:center 38.26px;">B</div>
<div class="t" style="top:448.90px;font-size:34.2px;left:1518.50px;width:1400px;text-align:center;transform:scale(1,1.05);transform-origin:center 28.95px;">20:40</div>
<div class="t" style="top:448.90px;font-size:34.2px;left:1618.70px;width:1400px;text-align:center;transform:scale(1,1.05);transform-origin:center 28.95px;color:#e00000;">21:20</div>
<div class="t bd" style="top:523.53px;font-size:33.4px;left:-547.60px;width:1400px;text-align:center;transform:scale(1,1.06);transform-origin:center 28.27px;color:#999999;">4</div>
<div class="t pl" style="top:498.71px;font-size:18.0px;left:194.60px;transform:scale(1.0192307692307692,1);transform-origin:left 15.24px;">ナツカユリエ</div>
<div class="t" style="top:499.14px;font-size:17.5px;left:450.00px;transform:scale(1.045,1);transform-origin:left 14.81px;color:#0000c8;">水着あり</div>
<div class="t pl" style="top:530.96px;font-size:28.4px;left:195.60px;">夏加ゆりえ</div>
<div class="t bd" style="top:510.50px;font-size:45.2px;left:-85.90px;width:1400px;text-align:center;transform:scale(1,1.02);transform-origin:center 38.26px;">D</div>
<div class="t" style="top:522.75px;font-size:34.2px;left:15.50px;width:1400px;text-align:center;transform:scale(1,1.05);transform-origin:center 28.95px;">14:00</div>
<div class="t" style="top:522.75px;font-size:34.2px;left:115.70px;width:1400px;text-align:center;transform:scale(1,1.05);transform-origin:center 28.95px;color:#e00000;">14:45</div>
<div class="t bd" style="top:510.50px;font-size:45.2px;left:214.70px;width:1400px;text-align:center;transform:scale(1,1.02);transform-origin:center 38.26px;">G</div>
<div class="t" style="top:522.75px;font-size:34.2px;left:316.10px;width:1400px;text-align:center;transform:scale(1,1.05);transform-origin:center 28.95px;">15:20</div>
<div class="t" style="top:522.75px;font-size:34.2px;left:416.30px;width:1400px;text-align:center;transform:scale(1,1.05);transform-origin:center 28.95px;color:#e00000;">16:00</div>
<div class="t bd" style="top:510.50px;font-size:45.2px;left:515.30px;width:1400px;text-align:center;transform:scale(1,1.02);transform-origin:center 38.26px;">B</div>
<div class="t" style="top:522.75px;font-size:34.2px;left:616.70px;width:1400px;text-align:center;transform:scale(1,1.05);transform-origin:center 28.95px;">16:40</div>
<div class="t" style="top:522.75px;font-size:34.2px;left:716.90px;width:1400px;text-align:center;transform:scale(1,1.05);transform-origin:center 28.95px;color:#e00000;">17:20</div>
<div class="t bd" style="top:510.50px;font-size:45.2px;left:815.90px;width:1400px;text-align:center;transform:scale(1,1.02);transform-origin:center 38.26px;">E</div>
<div class="t" style="top:522.75px;font-size:34.2px;left:917.30px;width:1400px;text-align:center;transform:scale(1,1.05);transform-origin:center 28.95px;">18:00</div>
<div class="t" style="top:522.75px;font-size:34.2px;left:1017.50px;width:1400px;text-align:center;transform:scale(1,1.05);transform-origin:center 28.95px;color:#e00000;">18:40</div>
<div class="t bd" style="top:510.50px;font-size:45.2px;left:1116.50px;width:1400px;text-align:center;transform:scale(1,1.02);transform-origin:center 38.26px;">H</div>
<div class="t" style="top:522.75px;font-size:34.2px;left:1217.90px;width:1400px;text-align:center;transform:scale(1,1.05);transform-origin:center 28.95px;">19:20</div>
<div class="t" style="top:522.75px;font-size:34.2px;left:1318.10px;width:1400px;text-align:center;transform:scale(1,1.05);transform-origin:center 28.95px;color:#e00000;">20:00</div>
<div class="t bd" style="top:510.50px;font-size:45.2px;left:1417.10px;width:1400px;text-align:center;transform:scale(1,1.02);transform-origin:center 38.26px;">C</div>
<div class="t" style="top:522.75px;font-size:34.2px;left:1518.50px;width:1400px;text-align:center;transform:scale(1,1.05);transform-origin:center 28.95px;">20:50</div>
<div class="t" style="top:522.75px;font-size:34.2px;left:1618.70px;width:1400px;text-align:center;transform:scale(1,1.05);transform-origin:center 28.95px;color:#e00000;">21:25</div>
<div class="t bd" style="top:602.98px;font-size:33.4px;left:-547.60px;width:1400px;text-align:center;transform:scale(1,1.06);transform-origin:center 28.27px;color:#999999;">5</div>
<div class="t pl" style="top:575.36px;font-size:18.0px;left:194.60px;transform:scale(1.0480769230769231,1);transform-origin:left 15.24px;">真宮あまね</div>
<div class="t pl" style="top:610.41px;font-size:28.4px;left:195.60px;">真宮あまね</div>
<div class="t bd" style="top:590.79px;font-size:45.2px;left:-85.90px;width:1400px;text-align:center;transform:scale(1,1.02);transform-origin:center 38.26px;">E</div>
<div class="t" style="top:602.20px;font-size:34.2px;left:15.50px;width:1400px;text-align:center;transform:scale(1,1.05);transform-origin:center 28.95px;">14:00</div>
<div class="t" style="top:602.20px;font-size:34.2px;left:115.70px;width:1400px;text-align:center;transform:scale(1,1.05);transform-origin:center 28.95px;color:#e00000;">14:50</div>
<div class="t bd" style="top:590.79px;font-size:45.2px;left:214.70px;width:1400px;text-align:center;transform:scale(1,1.02);transform-origin:center 38.26px;">H</div>
<div class="t" style="top:602.20px;font-size:34.2px;left:316.10px;width:1400px;text-align:center;transform:scale(1,1.05);transform-origin:center 28.95px;">15:30</div>
<div class="t" style="top:602.20px;font-size:34.2px;left:416.30px;width:1400px;text-align:center;transform:scale(1,1.05);transform-origin:center 28.95px;color:#e00000;">16:10</div>
<div class="t bd" style="top:590.79px;font-size:45.2px;left:515.30px;width:1400px;text-align:center;transform:scale(1,1.02);transform-origin:center 38.26px;">C</div>
<div class="t" style="top:602.20px;font-size:34.2px;left:616.70px;width:1400px;text-align:center;transform:scale(1,1.05);transform-origin:center 28.95px;">16:50</div>
<div class="t" style="top:602.20px;font-size:34.2px;left:716.90px;width:1400px;text-align:center;transform:scale(1,1.05);transform-origin:center 28.95px;color:#e00000;">17:30</div>
<div class="t bd" style="top:590.79px;font-size:45.2px;left:815.90px;width:1400px;text-align:center;transform:scale(1,1.02);transform-origin:center 38.26px;">F</div>
<div class="t" style="top:602.20px;font-size:34.2px;left:917.30px;width:1400px;text-align:center;transform:scale(1,1.05);transform-origin:center 28.95px;">18:10</div>
<div class="t" style="top:602.20px;font-size:34.2px;left:1017.50px;width:1400px;text-align:center;transform:scale(1,1.05);transform-origin:center 28.95px;color:#e00000;">18:50</div>
<div class="t bd" style="top:590.79px;font-size:45.2px;left:1116.50px;width:1400px;text-align:center;transform:scale(1,1.02);transform-origin:center 38.26px;">A</div>
<div class="t" style="top:602.20px;font-size:34.2px;left:1217.90px;width:1400px;text-align:center;transform:scale(1,1.05);transform-origin:center 28.95px;">19:30</div>
<div class="t" style="top:602.20px;font-size:34.2px;left:1318.10px;width:1400px;text-align:center;transform:scale(1,1.05);transform-origin:center 28.95px;color:#e00000;">20:10</div>
<div class="t bd" style="top:590.79px;font-size:45.2px;left:1417.10px;width:1400px;text-align:center;transform:scale(1,1.02);transform-origin:center 38.26px;">D</div>
<div class="t" style="top:602.20px;font-size:34.2px;left:1518.50px;width:1400px;text-align:center;transform:scale(1,1.05);transform-origin:center 28.95px;">21:00</div>
<div class="t" style="top:602.20px;font-size:34.2px;left:1618.70px;width:1400px;text-align:center;transform:scale(1,1.05);transform-origin:center 28.95px;color:#e00000;">21:30</div>
<div class="t bd" style="top:676.83px;font-size:33.4px;left:-547.60px;width:1400px;text-align:center;transform:scale(1,1.06);transform-origin:center 28.27px;color:#999999;">6</div>
<div class="t pl" style="top:652.01px;font-size:18.0px;left:194.60px;transform:scale(1.0528846153846154,1);transform-origin:left 15.24px;">キシオカアンナ</div>
<div class="t pl" style="top:684.26px;font-size:28.4px;left:195.60px;">岸岡杏奈</div>
<div class="t bd" style="top:663.80px;font-size:45.2px;left:-85.90px;width:1400px;text-align:center;transform:scale(1,1.02);transform-origin:center 38.26px;">F</div>
<div class="t" style="top:676.05px;font-size:34.2px;left:15.50px;width:1400px;text-align:center;transform:scale(1,1.05);transform-origin:center 28.95px;">14:25</div>
<div class="t" style="top:676.05px;font-size:34.2px;left:115.70px;width:1400px;text-align:center;transform:scale(1,1.05);transform-origin:center 28.95px;color:#e00000;">14:55</div>
<div class="t bd" style="top:663.80px;font-size:45.2px;left:214.70px;width:1400px;text-align:center;transform:scale(1,1.02);transform-origin:center 38.26px;">A</div>
<div class="t" style="top:676.05px;font-size:34.2px;left:316.10px;width:1400px;text-align:center;transform:scale(1,1.05);transform-origin:center 28.95px;">15:40</div>
<div class="t" style="top:676.05px;font-size:34.2px;left:416.30px;width:1400px;text-align:center;transform:scale(1,1.05);transform-origin:center 28.95px;color:#e00000;">16:20</div>
<div class="t bd" style="top:663.80px;font-size:45.2px;left:515.30px;width:1400px;text-align:center;transform:scale(1,1.02);transform-origin:center 38.26px;">D</div>
<div class="t" style="top:676.05px;font-size:34.2px;left:616.70px;width:1400px;text-align:center;transform:scale(1,1.05);transform-origin:center 28.95px;">17:00</div>
<div class="t" style="top:676.05px;font-size:34.2px;left:716.90px;width:1400px;text-align:center;transform:scale(1,1.05);transform-origin:center 28.95px;color:#e00000;">17:40</div>
<div class="t bd" style="top:663.80px;font-size:45.2px;left:815.90px;width:1400px;text-align:center;transform:scale(1,1.02);transform-origin:center 38.26px;">G</div>
<div class="t" style="top:676.05px;font-size:34.2px;left:917.30px;width:1400px;text-align:center;transform:scale(1,1.05);transform-origin:center 28.95px;">18:20</div>
<div class="t" style="top:676.05px;font-size:34.2px;left:1017.50px;width:1400px;text-align:center;transform:scale(1,1.05);transform-origin:center 28.95px;color:#e00000;">19:00</div>
<div class="t bd" style="top:663.80px;font-size:45.2px;left:1116.50px;width:1400px;text-align:center;transform:scale(1,1.02);transform-origin:center 38.26px;">B</div>
<div class="t" style="top:676.05px;font-size:34.2px;left:1217.90px;width:1400px;text-align:center;transform:scale(1,1.05);transform-origin:center 28.95px;">19:40</div>
<div class="t" style="top:676.05px;font-size:34.2px;left:1318.10px;width:1400px;text-align:center;transform:scale(1,1.05);transform-origin:center 28.95px;color:#e00000;">20:20</div>
<div class="t bd" style="top:663.80px;font-size:45.2px;left:1417.10px;width:1400px;text-align:center;transform:scale(1,1.02);transform-origin:center 38.26px;">E</div>
<div class="t bd ul2" style="top:676.05px;font-size:34.2px;left:1518.50px;width:1400px;text-align:center;transform:scale(1,1.05);transform-origin:center 28.95px;">21:10</div>
<div class="t" style="top:676.05px;font-size:34.2px;left:1618.70px;width:1400px;text-align:center;transform:scale(1,1.05);transform-origin:center 28.95px;color:#e00000;">22:00</div>
<div class="t bd" style="top:756.28px;font-size:33.4px;left:-547.60px;width:1400px;text-align:center;transform:scale(1,1.06);transform-origin:center 28.27px;color:#999999;">7</div>
<div class="t pl" style="top:728.66px;font-size:18.0px;left:194.60px;transform:scale(1.076923076923077,1);transform-origin:left 15.24px;">ハナサキフウカ</div>
<div class="t" style="top:729.09px;font-size:17.5px;left:450.00px;transform:scale(1.045,1);transform-origin:left 14.81px;color:#0000c8;">水着あり</div>
<div class="t pl" style="top:763.71px;font-size:28.4px;left:195.60px;">花咲楓香</div>
<div class="t bd" style="top:744.09px;font-size:45.2px;left:-85.90px;width:1400px;text-align:center;transform:scale(1,1.02);transform-origin:center 38.26px;">G</div>
<div class="t" style="top:755.50px;font-size:34.2px;left:15.50px;width:1400px;text-align:center;transform:scale(1,1.05);transform-origin:center 28.95px;">14:30</div>
<div class="t" style="top:755.50px;font-size:34.2px;left:115.70px;width:1400px;text-align:center;transform:scale(1,1.05);transform-origin:center 28.95px;color:#e00000;">15:00</div>
<div class="t bd" style="top:744.09px;font-size:45.2px;left:214.70px;width:1400px;text-align:center;transform:scale(1,1.02);transform-origin:center 38.26px;">B</div>
<div class="t" style="top:755.50px;font-size:34.2px;left:316.10px;width:1400px;text-align:center;transform:scale(1,1.05);transform-origin:center 28.95px;">15:50</div>
<div class="t" style="top:755.50px;font-size:34.2px;left:416.30px;width:1400px;text-align:center;transform:scale(1,1.05);transform-origin:center 28.95px;color:#e00000;">16:30</div>
<div class="t bd" style="top:744.09px;font-size:45.2px;left:515.30px;width:1400px;text-align:center;transform:scale(1,1.02);transform-origin:center 38.26px;">E</div>
<div class="t" style="top:755.50px;font-size:34.2px;left:616.70px;width:1400px;text-align:center;transform:scale(1,1.05);transform-origin:center 28.95px;">17:10</div>
<div class="t" style="top:755.50px;font-size:34.2px;left:716.90px;width:1400px;text-align:center;transform:scale(1,1.05);transform-origin:center 28.95px;color:#e00000;">17:50</div>
<div class="t bd" style="top:744.09px;font-size:45.2px;left:815.90px;width:1400px;text-align:center;transform:scale(1,1.02);transform-origin:center 38.26px;">H</div>
<div class="t" style="top:755.50px;font-size:34.2px;left:917.30px;width:1400px;text-align:center;transform:scale(1,1.05);transform-origin:center 28.95px;">18:30</div>
<div class="t" style="top:755.50px;font-size:34.2px;left:1017.50px;width:1400px;text-align:center;transform:scale(1,1.05);transform-origin:center 28.95px;color:#e00000;">19:10</div>
<div class="t bd" style="top:744.09px;font-size:45.2px;left:1116.50px;width:1400px;text-align:center;transform:scale(1,1.02);transform-origin:center 38.26px;">C</div>
<div class="t" style="top:755.50px;font-size:34.2px;left:1217.90px;width:1400px;text-align:center;transform:scale(1,1.05);transform-origin:center 28.95px;">19:50</div>
<div class="t" style="top:755.50px;font-size:34.2px;left:1318.10px;width:1400px;text-align:center;transform:scale(1,1.05);transform-origin:center 28.95px;color:#e00000;">20:30</div>
<div class="t bd" style="top:744.09px;font-size:45.2px;left:1417.10px;width:1400px;text-align:center;transform:scale(1,1.02);transform-origin:center 38.26px;">F</div>
<div class="t bd ul2" style="top:755.50px;font-size:34.2px;left:1518.50px;width:1400px;text-align:center;transform:scale(1,1.05);transform-origin:center 28.95px;">21:10</div>
<div class="t bd ul2" style="top:755.50px;font-size:34.2px;left:1618.70px;width:1400px;text-align:center;transform:scale(1,1.05);transform-origin:center 28.95px;color:#e00000;">21:50</div>
<div class="t bd" style="top:830.13px;font-size:33.4px;left:-547.60px;width:1400px;text-align:center;transform:scale(1,1.06);transform-origin:center 28.27px;color:#999999;">8</div>
<div class="t pl" style="top:805.31px;font-size:18.0px;left:194.60px;transform:scale(1.0673076923076923,1);transform-origin:left 15.24px;">シナノアオ</div>
<div class="t" style="top:805.74px;font-size:17.5px;left:450.00px;transform:scale(1.045,1);transform-origin:left 14.81px;color:#0000c8;">水着あり</div>
<div class="t pl" style="top:837.56px;font-size:28.4px;left:195.60px;">科乃あお</div>
<div class="t bd" style="top:817.10px;font-size:45.2px;left:-85.90px;width:1400px;text-align:center;transform:scale(1,1.02);transform-origin:center 38.26px;">H</div>
<div class="t" style="top:829.35px;font-size:34.2px;left:15.50px;width:1400px;text-align:center;transform:scale(1,1.05);transform-origin:center 28.95px;">14:35</div>
<div class="t" style="top:829.35px;font-size:34.2px;left:115.70px;width:1400px;text-align:center;transform:scale(1,1.05);transform-origin:center 28.95px;color:#e00000;">15:10</div>
<div class="t bd" style="top:817.10px;font-size:45.2px;left:214.70px;width:1400px;text-align:center;transform:scale(1,1.02);transform-origin:center 38.26px;">C</div>
<div class="t" style="top:829.35px;font-size:34.2px;left:316.10px;width:1400px;text-align:center;transform:scale(1,1.05);transform-origin:center 28.95px;">15:55</div>
<div class="t" style="top:829.35px;font-size:34.2px;left:416.30px;width:1400px;text-align:center;transform:scale(1,1.05);transform-origin:center 28.95px;color:#e00000;">16:35</div>
<div class="t bd" style="top:817.10px;font-size:45.2px;left:515.30px;width:1400px;text-align:center;transform:scale(1,1.02);transform-origin:center 38.26px;">F</div>
<div class="t" style="top:829.35px;font-size:34.2px;left:616.70px;width:1400px;text-align:center;transform:scale(1,1.05);transform-origin:center 28.95px;">17:15</div>
<div class="t" style="top:829.35px;font-size:34.2px;left:716.90px;width:1400px;text-align:center;transform:scale(1,1.05);transform-origin:center 28.95px;color:#e00000;">17:55</div>
<div class="t bd" style="top:817.10px;font-size:45.2px;left:815.90px;width:1400px;text-align:center;transform:scale(1,1.02);transform-origin:center 38.26px;">A</div>
<div class="t" style="top:829.35px;font-size:34.2px;left:917.30px;width:1400px;text-align:center;transform:scale(1,1.05);transform-origin:center 28.95px;">18:35</div>
<div class="t" style="top:829.35px;font-size:34.2px;left:1017.50px;width:1400px;text-align:center;transform:scale(1,1.05);transform-origin:center 28.95px;color:#e00000;">19:15</div>
<div class="t bd" style="top:817.10px;font-size:45.2px;left:1116.50px;width:1400px;text-align:center;transform:scale(1,1.02);transform-origin:center 38.26px;">D</div>
<div class="t" style="top:829.35px;font-size:34.2px;left:1217.90px;width:1400px;text-align:center;transform:scale(1,1.05);transform-origin:center 28.95px;">19:55</div>
<div class="t" style="top:829.35px;font-size:34.2px;left:1318.10px;width:1400px;text-align:center;transform:scale(1,1.05);transform-origin:center 28.95px;color:#e00000;">20:35</div>
<div class="t bd" style="top:817.10px;font-size:45.2px;left:1417.10px;width:1400px;text-align:center;transform:scale(1,1.02);transform-origin:center 38.26px;">G</div>
<div class="t" style="top:829.35px;font-size:34.2px;left:1518.50px;width:1400px;text-align:center;transform:scale(1,1.05);transform-origin:center 28.95px;">21:15</div>
<div class="t" style="top:829.35px;font-size:34.2px;left:1618.70px;width:1400px;text-align:center;transform:scale(1,1.05);transform-origin:center 28.95px;color:#e00000;">22:00</div>
<div class="t bd" style="top:909.58px;font-size:33.4px;left:-547.60px;width:1400px;text-align:center;transform:scale(1,1.06);transform-origin:center 28.27px;color:#999999;">9</div>
<div class="t pl" style="top:881.96px;font-size:18.0px;left:194.60px;transform:scale(1.028846153846154,1);transform-origin:left 15.24px;">ツキノミウ</div>
<div class="t pl" style="top:917.01px;font-size:28.4px;left:195.60px;">月乃美海</div>
<div class="t bd" style="top:897.39px;font-size:45.2px;left:-85.90px;width:1400px;text-align:center;transform:scale(1,1.02);transform-origin:center 38.26px;">A</div>
<div class="t" style="top:908.80px;font-size:34.2px;left:15.50px;width:1400px;text-align:center;transform:scale(1,1.05);transform-origin:center 28.95px;">14:40</div>
<div class="t" style="top:908.80px;font-size:34.2px;left:115.70px;width:1400px;text-align:center;transform:scale(1,1.05);transform-origin:center 28.95px;color:#e00000;">15:20</div>
<div class="t bd" style="top:897.39px;font-size:45.2px;left:214.70px;width:1400px;text-align:center;transform:scale(1,1.02);transform-origin:center 38.26px;">D</div>
<div class="t" style="top:908.80px;font-size:34.2px;left:316.10px;width:1400px;text-align:center;transform:scale(1,1.05);transform-origin:center 28.95px;">16:00</div>
<div class="t" style="top:908.80px;font-size:34.2px;left:416.30px;width:1400px;text-align:center;transform:scale(1,1.05);transform-origin:center 28.95px;color:#e00000;">16:40</div>
<div class="t bd" style="top:897.39px;font-size:45.2px;left:515.30px;width:1400px;text-align:center;transform:scale(1,1.02);transform-origin:center 38.26px;">G</div>
<div class="t" style="top:908.80px;font-size:34.2px;left:616.70px;width:1400px;text-align:center;transform:scale(1,1.05);transform-origin:center 28.95px;">17:20</div>
<div class="t" style="top:908.80px;font-size:34.2px;left:716.90px;width:1400px;text-align:center;transform:scale(1,1.05);transform-origin:center 28.95px;color:#e00000;">18:00</div>
<div class="t bd" style="top:897.39px;font-size:45.2px;left:815.90px;width:1400px;text-align:center;transform:scale(1,1.02);transform-origin:center 38.26px;">B</div>
<div class="t" style="top:908.80px;font-size:34.2px;left:917.30px;width:1400px;text-align:center;transform:scale(1,1.05);transform-origin:center 28.95px;">18:40</div>
<div class="t" style="top:908.80px;font-size:34.2px;left:1017.50px;width:1400px;text-align:center;transform:scale(1,1.05);transform-origin:center 28.95px;color:#e00000;">19:20</div>
<div class="t bd" style="top:897.39px;font-size:45.2px;left:1116.50px;width:1400px;text-align:center;transform:scale(1,1.02);transform-origin:center 38.26px;">E</div>
<div class="t" style="top:908.80px;font-size:34.2px;left:1217.90px;width:1400px;text-align:center;transform:scale(1,1.05);transform-origin:center 28.95px;">20:00</div>
<div class="t" style="top:908.80px;font-size:34.2px;left:1318.10px;width:1400px;text-align:center;transform:scale(1,1.05);transform-origin:center 28.95px;color:#e00000;">20:40</div>
<div class="t bd" style="top:897.39px;font-size:45.2px;left:1417.10px;width:1400px;text-align:center;transform:scale(1,1.02);transform-origin:center 38.26px;">H</div>
<div class="t" style="top:908.80px;font-size:34.2px;left:1518.50px;width:1400px;text-align:center;transform:scale(1,1.05);transform-origin:center 28.95px;">21:20</div>
<div class="t" style="top:908.80px;font-size:34.2px;left:1618.70px;width:1400px;text-align:center;transform:scale(1,1.05);transform-origin:center 28.95px;color:#e00000;">22:00</div>
<div class="t bd" style="top:983.43px;font-size:33.4px;left:-547.60px;width:1400px;text-align:center;transform:scale(1,1.06);transform-origin:center 28.27px;color:#999999;">10</div>
<div class="t pl" style="top:958.61px;font-size:18.0px;left:194.60px;transform:scale(1.0192307692307692,1);transform-origin:left 15.24px;">ツキミヤミサト</div>
<div class="t" style="top:959.04px;font-size:17.5px;left:450.00px;transform:scale(1.045,1);transform-origin:left 14.81px;color:#0000c8;">水着あり</div>
<div class="t pl" style="top:990.86px;font-size:28.4px;left:195.60px;">月宮みさと</div>
<div class="t bd" style="top:970.40px;font-size:45.2px;left:-85.90px;width:1400px;text-align:center;transform:scale(1,1.02);transform-origin:center 38.26px;">B</div>
<div class="t" style="top:982.65px;font-size:34.2px;left:15.50px;width:1400px;text-align:center;transform:scale(1,1.05);transform-origin:center 28.95px;">14:45</div>
<div class="t" style="top:982.65px;font-size:34.2px;left:115.70px;width:1400px;text-align:center;transform:scale(1,1.05);transform-origin:center 28.95px;color:#e00000;">15:30</div>
<div class="t bd" style="top:970.40px;font-size:45.2px;left:214.70px;width:1400px;text-align:center;transform:scale(1,1.02);transform-origin:center 38.26px;">E</div>
<div class="t" style="top:982.65px;font-size:34.2px;left:316.10px;width:1400px;text-align:center;transform:scale(1,1.05);transform-origin:center 28.95px;">16:05</div>
<div class="t" style="top:982.65px;font-size:34.2px;left:416.30px;width:1400px;text-align:center;transform:scale(1,1.05);transform-origin:center 28.95px;color:#e00000;">16:45</div>
<div class="t bd" style="top:970.40px;font-size:45.2px;left:515.30px;width:1400px;text-align:center;transform:scale(1,1.02);transform-origin:center 38.26px;">H</div>
<div class="t" style="top:982.65px;font-size:34.2px;left:616.70px;width:1400px;text-align:center;transform:scale(1,1.05);transform-origin:center 28.95px;">17:25</div>
<div class="t" style="top:982.65px;font-size:34.2px;left:716.90px;width:1400px;text-align:center;transform:scale(1,1.05);transform-origin:center 28.95px;color:#e00000;">18:05</div>
<div class="t bd" style="top:970.40px;font-size:45.2px;left:815.90px;width:1400px;text-align:center;transform:scale(1,1.02);transform-origin:center 38.26px;">C</div>
<div class="t" style="top:982.65px;font-size:34.2px;left:917.30px;width:1400px;text-align:center;transform:scale(1,1.05);transform-origin:center 28.95px;">18:45</div>
<div class="t" style="top:982.65px;font-size:34.2px;left:1017.50px;width:1400px;text-align:center;transform:scale(1,1.05);transform-origin:center 28.95px;color:#e00000;">19:25</div>
<div class="t bd" style="top:970.40px;font-size:45.2px;left:1116.50px;width:1400px;text-align:center;transform:scale(1,1.02);transform-origin:center 38.26px;">F</div>
<div class="t" style="top:982.65px;font-size:34.2px;left:1217.90px;width:1400px;text-align:center;transform:scale(1,1.05);transform-origin:center 28.95px;">20:05</div>
<div class="t" style="top:982.65px;font-size:34.2px;left:1318.10px;width:1400px;text-align:center;transform:scale(1,1.05);transform-origin:center 28.95px;color:#e00000;">20:45</div>
<div class="t bd" style="top:970.40px;font-size:45.2px;left:1417.10px;width:1400px;text-align:center;transform:scale(1,1.02);transform-origin:center 38.26px;">A</div>
<div class="t" style="top:982.65px;font-size:34.2px;left:1518.50px;width:1400px;text-align:center;transform:scale(1,1.05);transform-origin:center 28.95px;">21:25</div>
<div class="t" style="top:982.65px;font-size:34.2px;left:1618.70px;width:1400px;text-align:center;transform:scale(1,1.05);transform-origin:center 28.95px;color:#e00000;">22:00</div>
<div class="t bd" style="top:1062.88px;font-size:33.4px;left:-547.60px;width:1400px;text-align:center;transform:scale(1,1.06);transform-origin:center 28.27px;color:#999999;">11</div>
<div class="t pl" style="top:1035.26px;font-size:18.0px;left:194.60px;transform:scale(1.0057692307692307,1);transform-origin:left 15.24px;">イトシノサクラ</div>
<div class="t" style="top:1035.69px;font-size:17.5px;left:450.00px;transform:scale(1.045,1);transform-origin:left 14.81px;color:#0000c8;">水着あり</div>
<div class="t pl" style="top:1070.31px;font-size:28.4px;left:195.60px;">愛乃さくら</div>
<div class="t bd" style="top:1050.69px;font-size:45.2px;left:-85.90px;width:1400px;text-align:center;transform:scale(1,1.02);transform-origin:center 38.26px;">C</div>
<div class="t" style="top:1062.10px;font-size:34.2px;left:15.50px;width:1400px;text-align:center;transform:scale(1,1.05);transform-origin:center 28.95px;">14:50</div>
<div class="t" style="top:1062.10px;font-size:34.2px;left:115.70px;width:1400px;text-align:center;transform:scale(1,1.05);transform-origin:center 28.95px;color:#e00000;">15:35</div>
<div class="t bd" style="top:1050.69px;font-size:45.2px;left:214.70px;width:1400px;text-align:center;transform:scale(1,1.02);transform-origin:center 38.26px;">F</div>
<div class="t" style="top:1062.10px;font-size:34.2px;left:316.10px;width:1400px;text-align:center;transform:scale(1,1.05);transform-origin:center 28.95px;">16:10</div>
<div class="t" style="top:1062.10px;font-size:34.2px;left:416.30px;width:1400px;text-align:center;transform:scale(1,1.05);transform-origin:center 28.95px;color:#e00000;">16:55</div>
<div class="t bd" style="top:1050.69px;font-size:45.2px;left:515.30px;width:1400px;text-align:center;transform:scale(1,1.02);transform-origin:center 38.26px;">A</div>
<div class="t" style="top:1062.10px;font-size:34.2px;left:616.70px;width:1400px;text-align:center;transform:scale(1,1.05);transform-origin:center 28.95px;">17:35</div>
<div class="t" style="top:1062.10px;font-size:34.2px;left:716.90px;width:1400px;text-align:center;transform:scale(1,1.05);transform-origin:center 28.95px;color:#e00000;">18:15</div>
<div class="t bd" style="top:1050.69px;font-size:45.2px;left:815.90px;width:1400px;text-align:center;transform:scale(1,1.02);transform-origin:center 38.26px;">D</div>
<div class="t" style="top:1062.10px;font-size:34.2px;left:917.30px;width:1400px;text-align:center;transform:scale(1,1.05);transform-origin:center 28.95px;">18:55</div>
<div class="t" style="top:1062.10px;font-size:34.2px;left:1017.50px;width:1400px;text-align:center;transform:scale(1,1.05);transform-origin:center 28.95px;color:#e00000;">19:35</div>
<div class="t bd" style="top:1050.69px;font-size:45.2px;left:1116.50px;width:1400px;text-align:center;transform:scale(1,1.02);transform-origin:center 38.26px;">G</div>
<div class="t" style="top:1062.10px;font-size:34.2px;left:1217.90px;width:1400px;text-align:center;transform:scale(1,1.05);transform-origin:center 28.95px;">20:15</div>
<div class="t" style="top:1062.10px;font-size:34.2px;left:1318.10px;width:1400px;text-align:center;transform:scale(1,1.05);transform-origin:center 28.95px;color:#e00000;">20:55</div>
<div class="t bd" style="top:1050.69px;font-size:45.2px;left:1417.10px;width:1400px;text-align:center;transform:scale(1,1.02);transform-origin:center 38.26px;">B</div>
<div class="t" style="top:1062.10px;font-size:34.2px;left:1518.50px;width:1400px;text-align:center;transform:scale(1,1.05);transform-origin:center 28.95px;">21:30</div>
<div class="t" style="top:1062.10px;font-size:34.2px;left:1618.70px;width:1400px;text-align:center;transform:scale(1,1.05);transform-origin:center 28.95px;color:#e00000;">22:00</div>
<div class="t pl" style="top:1111.91px;font-size:18.0px;left:194.60px;transform:scale(1.0576923076923077,1);transform-origin:left 15.24px;">クオンフサ</div>
<div class="t pl" style="top:1145.16px;font-size:28.4px;left:195.60px;">空音ふさ</div>
<div class="t" style="top:1147.49px;font-size:26px;left:450.40px;color:#e00000;">欠席</div>
<div class="t bd hv" style="top:227.70px;font-size:28px;left:122.40px;transform:scale(1.03,1);transform-origin:left 23.70px;">順番</div>
<div class="t bd hv" style="top:224.36px;font-size:28.4px;left:-327.40px;width:1400px;text-align:center;transform:scale(1.02,1);transform-origin:center 24.04px;">出演者名</div>
<div class="t bd hv" style="top:207.68px;font-size:26.6px;left:650.90px;transform:scale(0.9991,1.05);transform-origin:left 22.52px;">1ターン目</div>
<div class="t j bd" style="top:234.12px;font-size:17.5px;left:13.40px;width:1400px;text-align:center;transform:scale(1.09,1);transform-origin:center 16.38px;-webkit-text-stroke:0.5px #000;">▽▽</div>
<div class="t bd hv" style="top:207.68px;font-size:26.6px;left:949.48px;transform:scale(1.0165,1.05);transform-origin:left 22.52px;">2ターン目</div>
<div class="t j bd" style="top:234.12px;font-size:17.5px;left:314.00px;width:1400px;text-align:center;transform:scale(1.09,1);transform-origin:center 16.38px;-webkit-text-stroke:0.5px #000;">▽▽</div>
<div class="t bd hv" style="top:207.68px;font-size:26.6px;left:1250.70px;transform:scale(1.0241,1.05);transform-origin:left 22.52px;">3ターン目</div>
<div class="t j bd" style="top:234.12px;font-size:17.5px;left:614.60px;width:1400px;text-align:center;transform:scale(1.09,1);transform-origin:center 16.38px;-webkit-text-stroke:0.5px #000;">▽▽</div>
<div class="t bd hv" style="top:207.68px;font-size:26.6px;left:1550.50px;transform:scale(1.0129,1.05);transform-origin:left 22.52px;">4ターン目</div>
<div class="t j bd" style="top:234.12px;font-size:17.5px;left:915.20px;width:1400px;text-align:center;transform:scale(1.09,1);transform-origin:center 16.38px;-webkit-text-stroke:0.5px #000;">▽▽</div>
<div class="t bd hv" style="top:207.68px;font-size:26.6px;left:1850.98px;transform:scale(1.0165,1.05);transform-origin:left 22.52px;">5ターン目</div>
<div class="t j bd" style="top:234.12px;font-size:17.5px;left:1215.80px;width:1400px;text-align:center;transform:scale(1.09,1);transform-origin:center 16.38px;-webkit-text-stroke:0.5px #000;">▽▽</div>
<div class="t bd hv" style="top:207.68px;font-size:26.6px;left:2149.48px;transform:scale(1.0226,1.05);transform-origin:left 22.52px;">6ターン目</div>
<div class="t j bd" style="top:234.12px;font-size:17.5px;left:1516.40px;width:1400px;text-align:center;transform:scale(1.09,1);transform-origin:center 16.38px;-webkit-text-stroke:0.5px #000;">▽▽</div>
<div class="t bd pl hv" style="top:1187.94px;font-size:26.3px;left:742.75px;transform:scale(1.0167,1);transform-origin:left 22.26px;color:#cc4125;">※タイムテーブルは目安であり、当日の状況によって予告なく変更することがあります。</div>
<div class="t bd pl hv" style="top:1218.14px;font-size:26.3px;left:546.76px;transform:scale(1.014,1);transform-origin:left 22.26px;color:#cc4125;">※閉会式後は全員でチェキタイムがあります。</div>
<div class="t bd pl hv" style="top:1218.14px;font-size:26.3px;left:1081.32px;transform:scale(1.0252,1);transform-origin:left 22.26px;color:#cc4125;">※[薔薇の差し入れ][チェキコイン]の購入締め切りは</div>
<div class="t bd" style="top:1218.14px;font-size:26.3px;left:1719.43px;transform:scale(1.1353,1.13);transform-origin:left 22.26px;letter-spacing:1.5px;color:#cc4125;">” 21:35 ”</div>
<div class="t bd hv" style="top:1218.14px;font-size:26.3px;left:1860.74px;transform:scale(1.0276,1);transform-origin:left 22.26px;color:#cc4125;">です。</div>
<div class="t j bd" style="top:1277.06px;font-size:29px;left:642.12px;transform:scale(0.9804,1);transform-origin:left 27.14px;-webkit-text-stroke:0.7px #000;">▼▽</div>
<div class="t bd pl hv" style="top:1279.65px;font-size:29px;left:708.25px;transform:scale(1.0467,1);transform-origin:left 24.55px;">タイムテーブルの参照方法</div>
<div class="t j bd" style="top:1277.06px;font-size:29px;left:1078.57px;transform:scale(1.0321,1);transform-origin:left 27.14px;-webkit-text-stroke:0.7px #000;">▽▼</div>
<div class="t bd hv" style="top:1340.90px;font-size:30px;left:382.10px;transform:scale(1.1,1);transform-origin:left 25.39px;">【</div>
<div class="t bd pl hv" style="top:1340.90px;font-size:30px;left:424.20px;transform:scale(0.9897,1);transform-origin:left 25.39px;">例</div>
<div class="t bd hv" style="top:1340.90px;font-size:30px;left:465.76px;transform:scale(1.04,1);transform-origin:left 25.39px;">】</div>
<div class="t bd hv" style="top:1341.20px;font-size:30px;left:1140.10px;transform:scale(1.1,1);transform-origin:left 25.39px;">【</div>
<div class="t bd pl hv" style="top:1341.20px;font-size:30px;left:1183.07px;transform:scale(1.0276,1);transform-origin:left 25.39px;">見方</div>
<div class="t bd hv" style="top:1341.20px;font-size:30px;left:1256.74px;transform:scale(1.06,1);transform-origin:left 25.39px;">】</div>
<div class="t bd hv" style="top:1589.01px;font-size:30px;left:701.16px;transform:scale(1.16,1);transform-origin:left 25.39px;">【</div>
<div class="t bd pl hv" style="top:1589.01px;font-size:30px;left:744.95px;transform:scale(1.0173,1);transform-origin:left 25.39px;">出演衣装の確認方法</div>
<div class="t bd hv" style="top:1589.01px;font-size:30px;left:1043.31px;transform:scale(0.99,1);transform-origin:left 25.39px;">】</div>
<div class="t" style="top:1410.98px;font-size:24px;left:127.57px;transform:scale(1.0348,1);transform-origin:left 20.32px;">順番</div>
<div class="t" style="top:1410.98px;font-size:24px;left:262.42px;transform:scale(1.0615,1);transform-origin:left 20.32px;letter-spacing:1.8px;">出演者名</div>
<div class="t" style="top:1389.04px;font-size:25px;left:547.38px;transform:scale(1.0112,1);transform-origin:left 21.16px;">1ターン目</div>
<div class="t j bd" style="top:1415.42px;font-size:16px;left:584.33px;transform:scale(1.17,1);transform-origin:left 14.98px;-webkit-text-stroke:0.5px #000;">▽▽</div>
<div class="t bd" style="top:1496.27px;font-size:55.2px;left:-548.50px;width:1400px;text-align:center;transform:scale(1,1.035);transform-origin:center 46.73px;color:#666;">1</div>
<div class="t pl" style="top:1473.22px;font-size:21px;left:200.23px;transform:scale(1.0733,1);transform-origin:left 17.78px;">フレッシュハナコ</div>
<div class="t" style="top:1521.20px;font-size:32.6px;left:204.38px;transform:scale(1.0188,1);transform-origin:left 27.60px;letter-spacing:1.6px;">新鮮花子</div>
<div class="t" style="top:1493.26px;font-size:59px;left:-195.60px;width:1400px;text-align:center;transform:scale(1,1.03);transform-origin:center 49.94px;">A</div>
<div class="t" style="top:1520.89px;font-size:33.8px;left:-81.00px;width:1400px;text-align:center;transform:scale(1,1.05);transform-origin:center 28.61px;">14:00</div>
<div class="t" style="top:1520.89px;font-size:33.8px;left:17.20px;width:1400px;text-align:center;transform:scale(1,1.05);transform-origin:center 28.61px;color:#e00000;">14:30</div>
<div class="t pl" style="top:1634.39px;font-size:20.8px;left:268.12px;transform:scale(1.089,1);transform-origin:left 17.61px;">アルファベット枠内の色：着用衣装</div>
<div class="t pl" style="top:1660.39px;font-size:20.8px;left:334.10px;transform:scale(1.0957,1);transform-origin:left 17.61px;">上記例は水着で出演</div>
<div class="t pl" style="top:1413.79px;font-size:20.8px;left:885.26px;transform:scale(1.0703,1);transform-origin:left 17.61px;">アルファベット：撮影エリア</div>
<div class="t pl" style="top:1450.59px;font-size:20.8px;left:906.72px;transform:scale(1.085,1);transform-origin:left 17.61px;">黒数字：新鮮花子さん</div>
<div class="t j pl" style="top:1473.83px;font-size:20.8px;left:879.10px;transform:scale(1.0975,1);transform-origin:left 19.47px;">○ターン目の撮影開始時間</div>
<div class="t pl" style="top:1512.49px;font-size:20.8px;left:906.72px;transform:scale(1.085,1);transform-origin:left 17.61px;color:#e00000;">赤数字：新鮮花子さん</div>
<div class="t j pl" style="top:1535.73px;font-size:20.8px;left:879.10px;transform:scale(1.0975,1);transform-origin:left 19.47px;color:#e00000;">○ターン目の撮影終了時間</div>
<div class="t pl" style="top:1413.79px;font-size:20.8px;left:1368.60px;transform:scale(1.0821,1);transform-origin:left 17.61px;"><span class="big">A</span>のエリアでの撮影</div>
<div class="t pl" style="top:1475.69px;font-size:20.8px;left:1367.40px;transform:scale(1.0514,1);transform-origin:left 17.61px;"><span class="big">14:00</span>から撮影開始</div>
<div class="t pl" style="top:1512.49px;font-size:20.8px;left:1353.31px;transform:scale(1.0456,1);transform-origin:left 17.61px;"><span class="big">14:30</span>からチェキタイム</div>
<div class="t pl" style="top:1537.59px;font-size:20.8px;left:1398.85px;transform:scale(1.1455,1);transform-origin:left 17.61px;">その後、休憩</div>
<div class="t pl" style="top:1646.39px;font-size:20.8px;left:805.69px;transform:scale(1.113,1);transform-origin:left 17.61px;">水着で出演</div>
<div class="t pl" style="top:1633.99px;font-size:20.8px;left:1011.32px;transform:scale(1.0401,1);transform-origin:left 17.61px;">コンセプトイメージの</div>
<div class="t pl" style="top:1658.99px;font-size:20.8px;left:1057.20px;transform:scale(1.097,1);transform-origin:left 17.61px;">衣装で出演</div>
<div class="t pl" style="top:1633.99px;font-size:20.8px;left:1352.29px;transform:scale(1.1072,1);transform-origin:left 17.61px;">モデルさんへおまかせ</div>
<div class="t pl" style="top:1659.79px;font-size:20.8px;left:1343.30px;transform:scale(1.0967,1);transform-origin:left 17.61px;">プロデュース衣装で出演</div>
<div class="t bd hv" style="top:1341.01px;font-size:30px;left:1913.94px;transform:scale(1.04,1);transform-origin:left 25.39px;">【</div>
<div class="t bd pl hv" style="top:1341.01px;font-size:30px;left:1955.74px;transform:scale(0.9552,1);transform-origin:left 25.39px;">各エリアイメージ</div>
<div class="t bd hv" style="top:1341.01px;font-size:30px;left:2187.58px;transform:scale(1.12,1);transform-origin:left 25.39px;">】</div>
<div class="t bd" style="top:1399.01px;font-size:32px;left:1116.40px;width:1400px;text-align:center;transform:scale(1,1.03);transform-origin:center 27.09px;">A</div>
<div class="t bd" style="top:1399.01px;font-size:32px;left:1416.80px;width:1400px;text-align:center;transform:scale(1,1.03);transform-origin:center 27.09px;">E</div>
<div class="t bd pl hv" style="top:1402.37px;font-size:33px;left:1907.40px;transform:scale(0.9496,1);transform-origin:left 27.93px;">ブラック</div>
<div class="t bd pl hv" style="top:1402.37px;font-size:33px;left:2219.39px;transform:scale(1.008,1);transform-origin:left 27.93px;">テラス</div>
<div class="t bd" style="top:1461.01px;font-size:32px;left:1116.40px;width:1400px;text-align:center;transform:scale(1,1.03);transform-origin:center 27.09px;">B</div>
<div class="t bd" style="top:1461.01px;font-size:32px;left:1416.80px;width:1400px;text-align:center;transform:scale(1,1.03);transform-origin:center 27.09px;">F</div>
<div class="t bd pl hv" style="top:1464.37px;font-size:33px;left:1902.73px;transform:scale(0.9685,1);transform-origin:left 27.93px;">バスタブ</div>
<div class="t bd pl hv" style="top:1464.37px;font-size:33px;left:2249.60px;transform:scale(0.997,1);transform-origin:left 27.93px;">鏡</div>
<div class="t bd" style="top:1522.81px;font-size:32px;left:1116.40px;width:1400px;text-align:center;transform:scale(1,1.03);transform-origin:center 27.09px;">C</div>
<div class="t bd" style="top:1522.81px;font-size:32px;left:1416.80px;width:1400px;text-align:center;transform:scale(1,1.03);transform-origin:center 27.09px;">G</div>
<div class="t bd pl hv" style="top:1526.17px;font-size:33px;left:1905.86px;transform:scale(0.9701,1);transform-origin:left 27.93px;">ホワイト</div>
<div class="t bd pl hv" style="top:1526.17px;font-size:33px;left:2230.65px;transform:scale(1.0484,1);transform-origin:left 27.93px;">学校</div>
<div class="t bd" style="top:1584.61px;font-size:32px;left:1116.40px;width:1400px;text-align:center;transform:scale(1,1.03);transform-origin:center 27.09px;">D</div>
<div class="t bd" style="top:1584.61px;font-size:32px;left:1416.80px;width:1400px;text-align:center;transform:scale(1,1.03);transform-origin:center 27.09px;">H</div>
<div class="t bd pl hv" style="top:1587.97px;font-size:33px;left:1931.90px;transform:scale(1.0138,1);transform-origin:left 27.93px;">和室</div>
<div class="t bd pl hv" style="top:1587.97px;font-size:33px;left:2223.56px;transform:scale(0.9368,1);transform-origin:left 27.93px;">ベッド</div>
</div></body></html>
